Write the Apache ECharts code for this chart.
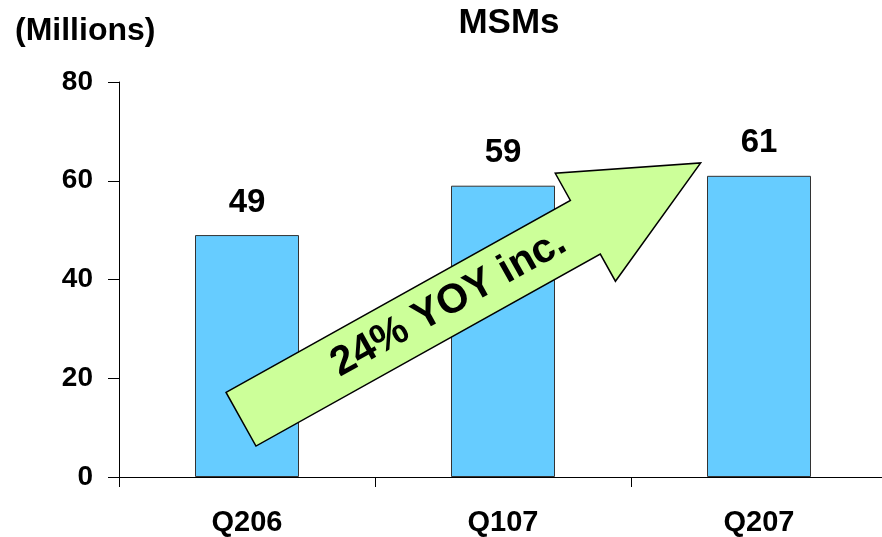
<!DOCTYPE html>
<html>
<head>
<meta charset="utf-8">
<style>
  html, body { margin: 0; padding: 0; background: #ffffff; overflow: hidden; width: 882px; height: 537px; }
  /* the plot runs slightly past the right edge of the window */
  #chart { width: 890px; height: 537px; }
</style>
<script src="https://cdn.jsdelivr.net/npm/echarts@6/dist/echarts.min.js"></script>
</head>
<body>
<div id="chart"></div>
<script>
// Quarterly MSM counts, in millions
const categories = ['Q206', 'Q107', 'Q207'];
const msmValues = [49, 59, 61];
const yTickValues = [0, 20, 40, 60, 80];

// Growth callout drawn as an arrow across the bars
const growthText = '24% YOY inc.';
// arrow tail centre and tip, in (category position, millions)
const arrowTail = [0.4766, 11.7];
const arrowTip = [2.272, 63.6];

const FONT = '"Liberation Sans", Arial, Helvetica, sans-serif';
const chart = echarts.init(document.getElementById('chart'), null, { renderer: 'canvas' });

function renderArrow(params, api) {
  const t = api.coord([api.value(0), api.value(1)]);
  const p = api.coord([api.value(2), api.value(3)]);
  const dx = p[0] - t[0], dy = p[1] - t[1];
  const len = Math.sqrt(dx * dx + dy * dy);
  const ux = dx / len, uy = dy / len;     // along the arrow
  const nx = -uy, ny = ux;                // across the arrow
  const shaftHalf = 30.7, headHalf = 61.8, headLen = 132;
  const n = [p[0] - ux * headLen, p[1] - uy * headLen];
  const pt = (c, k) => [c[0] + nx * k, c[1] + ny * k];
  const points = [
    pt(t, -shaftHalf), pt(n, -shaftHalf), pt(n, -headHalf), p,
    pt(n, headHalf), pt(n, shaftHalf), pt(t, shaftHalf)
  ];
  const f = 0.452;
  const angle = Math.atan2(-dy, dx);
  return {
    type: 'group',
    children: [
      {
        type: 'polygon',
        shape: { points: points },
        style: { fill: '#CCFF99', stroke: '#000000', lineWidth: 1.5 }
      },
      {
        type: 'text',
        x: t[0] + dx * f,
        y: t[1] + dy * f,
        rotation: angle,
        style: {
          text: growthText,
          x: 0, y: 0,
          align: 'center',
          verticalAlign: 'middle',
          fill: '#000000',
          font: 'bold 41px ' + FONT
        }
      }
    ]
  };
}

const option = {
  backgroundColor: '#ffffff',
  animation: false,
  title: [
    {
      text: 'MSMs',
      left: 504, top: 1,
      textAlign: 'center',
      textStyle: { fontFamily: FONT, fontSize: 35, fontWeight: 'bold', color: '#000' }
    },
    {
      text: '(Millions)',
      left: 10, top: 10,
      textStyle: { fontFamily: FONT, fontSize: 32, fontWeight: 'bold', color: '#000' }
    }
  ],
  grid: { left: 119, top: 82, width: 768, height: 395, containLabel: false },
  xAxis: [
    {
      type: 'category',
      data: categories,
      boundaryGap: true,
      axisLine: { show: true, lineStyle: { color: '#000', width: 1 } },
      axisTick: { show: true, length: 10, alignWithLabel: false, lineStyle: { color: '#000' } },
      axisLabel: { margin: 31, fontFamily: FONT, fontSize: 29, fontWeight: 'bold', color: '#000' },
      splitLine: { show: false }
    },
    { type: 'value', min: 0, max: 3, show: false }
  ],
  yAxis: {
    type: 'value',
    min: yTickValues[0],
    max: yTickValues[yTickValues.length - 1],
    interval: yTickValues[1] - yTickValues[0],
    axisLine: { show: true, lineStyle: { color: '#000', width: 1 } },
    axisTick: { show: true, length: 11, lineStyle: { color: '#000' } },
    axisLabel: { margin: 26, fontFamily: FONT, fontSize: 28, fontWeight: 'bold', color: '#000' },
    splitLine: { show: false }
  },
  series: [
    {
      type: 'bar',
      data: msmValues,
      barWidth: 104,
      itemStyle: { color: '#66CCFF', borderColor: '#333333', borderWidth: 1 },
      label: {
        show: true, position: 'top', distance: 16,
        fontFamily: FONT, fontSize: 33, fontWeight: 'bold', color: '#000'
      },
      z: 2
    },
    {
      type: 'custom',
      xAxisIndex: 1,
      yAxisIndex: 0,
      renderItem: renderArrow,
      data: [[arrowTail[0], arrowTail[1], arrowTip[0], arrowTip[1]]],
      clip: false,
      silent: true,
      z: 5
    }
  ]
};

chart.setOption(option);
</script>
</body>
</html>
